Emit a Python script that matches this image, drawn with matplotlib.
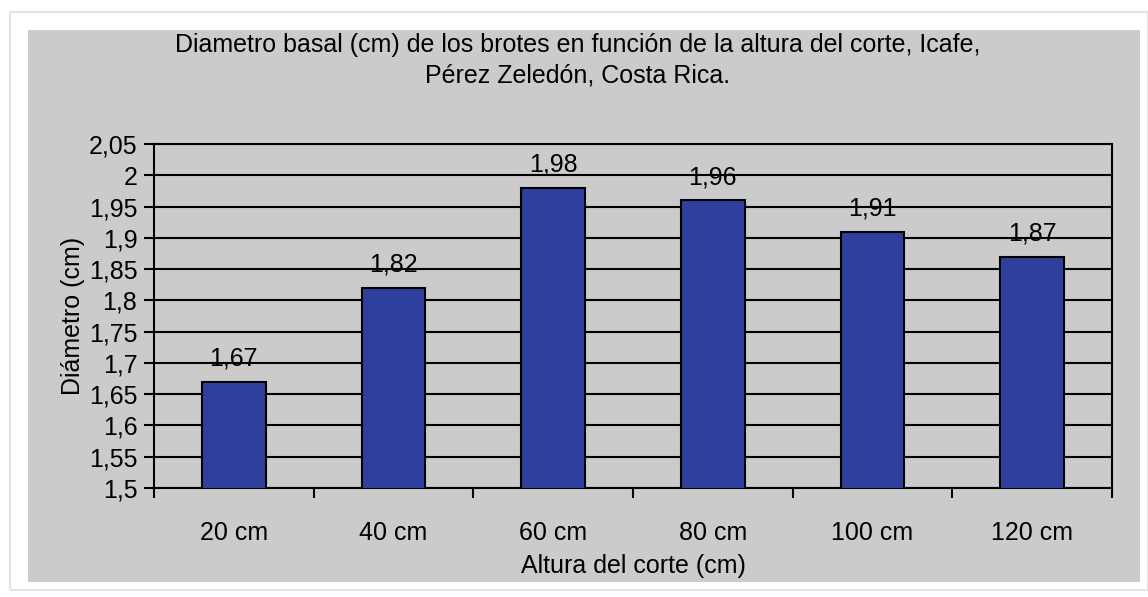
import matplotlib
matplotlib.use("Agg")
import matplotlib.pyplot as plt
from matplotlib.patches import Rectangle
from matplotlib.ticker import FixedLocator, NullFormatter
import numpy as np

# data
categories = ["20 cm", "40 cm", "60 cm", "80 cm", "100 cm", "120 cm"]
diametro = [1.67, 1.82, 1.98, 1.96, 1.91, 1.87]
y_ticks = [1.5, 1.55, 1.6, 1.65, 1.7, 1.75, 1.8, 1.85, 1.9, 1.95, 2.0, 2.05]

plt.rcParams['font.family'] = ['Liberation Sans', 'DejaVu Sans']
FS = 18

W, H = 1148, 597
fig = plt.figure(figsize=(W / 100, H / 100), dpi=100)
fig.patch.set_facecolor('white')

# outer thin frame and grey chart panel (figure coordinates), behind the axes
fig.add_artist(Rectangle((10 / W, 1 - 590 / H), 1 - 10 / W, (590 - 12) / H,
                         transform=fig.transFigure, facecolor='white',
                         edgecolor='#e4e4e4', linewidth=1.5, zorder=-2))
fig.add_artist(Rectangle((28 / W, 1 - 582 / H), (1140 - 28) / W, (582 - 30) / H,
                         transform=fig.transFigure, facecolor='#cbcbcb',
                         edgecolor='none', zorder=-1))

# plot area
left, right, top, bottom = 154, 1112, 144, 488
ax = fig.add_axes([left / W, 1 - bottom / H, (right - left) / W, (bottom - top) / H])
ax.set_facecolor('#cbcbcb')

x = np.arange(len(categories))
ax.bar(x, diametro, width=0.4, bottom=0, color='#2f3f9e', edgecolor='black',
       linewidth=1.5, zorder=3)

ax.set_ylim(1.5, 2.05)
ax.set_xlim(-0.5, len(categories) - 0.5)
ax.set_yticks(y_ticks)
ax.set_yticklabels([('%g' % v).replace('.', ',') for v in y_ticks], fontsize=FS)
ax.yaxis.grid(True, color='black', linewidth=1.5, zorder=1)
ax.set_axisbelow(True)

# category labels centred, ticks on the boundaries
ax.set_xticks(x)
ax.set_xticklabels(categories, fontsize=FS)
ax.tick_params(axis='x', which='major', length=0, pad=24)
ax.xaxis.set_minor_locator(FixedLocator(np.arange(-0.5, len(categories), 1.0)))
ax.xaxis.set_minor_formatter(NullFormatter())
ax.tick_params(axis='x', which='minor', length=7, width=1.5, direction='out')
ax.tick_params(axis='y', length=7, width=1.5, direction='out', pad=5)

for s in ax.spines.values():
    s.set_linewidth(1.5)
    s.set_color('black')

for xi, v in zip(x, diametro):
    ax.text(xi, v + 0.018, ('%.2f' % v).replace('.', ','), ha='center',
            va='bottom', fontsize=FS, zorder=4)

ax.set_ylabel('Diámetro (cm)', fontsize=FS, labelpad=3)
ax.set_xlabel('Altura del corte (cm)', fontsize=FS, labelpad=6)

fig.text(578 / W, 1 - 60 / H,
         'Diametro basal (cm) de los brotes en función de la altura del corte, Icafe,\nPérez Zeledón, Costa Rica.',
         ha='center', va='center', fontsize=FS, linespacing=1.35)

fig.savefig('out.png', dpi=100, facecolor='white')
